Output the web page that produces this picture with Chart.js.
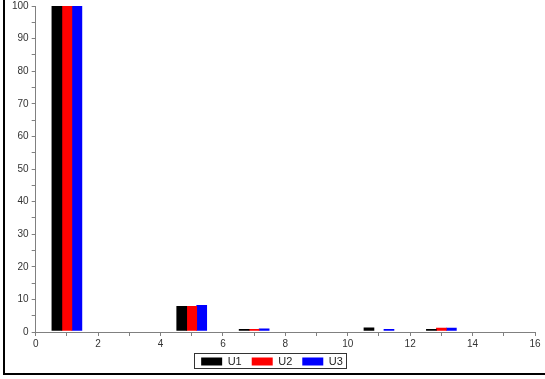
<!DOCTYPE html>
<html>
<head>
<meta charset="utf-8">
<script src="https://cdn.jsdelivr.net/npm/chart.js@4/dist/chart.umd.min.js"></script>
<style>
  html, body { margin: 0; padding: 0; background: #ffffff; }
  #wrap { position: relative; width: 545px; height: 379px; }
</style>
</head>
<body>
<div id="wrap"><canvas id="c" width="545" height="379"></canvas></div>
<script>
// ---- data ----
const positions = [1, 5, 7, 11, 13];
const seriesNames = ['U1', 'U2', 'U3'];
const u1 = [100, 7.9, 0.8, 1.3, 0.8];
const u2 = [100, 7.9, 0.8, null, 1.2];
const u3 = [100, 8.2, 1.0, 0.8, 1.2];
const seriesColors = ['#000000', '#ff0000', '#0000ff'];
const barBase = 0.5;
const xMin = 0, xMax = 16, yMin = 0, yMax = 100;

function pts(vals) { return positions.map((x, i) => ({ x: x, y: vals[i] })); }

const legendShift = {
  id: 'legendShift',
  afterLayout(chart) {
    const lg = chart.legend;
    const dy = -6;
    lg.top += dy; lg.bottom += dy;
  }
};

const frame = {
  id: 'frame',
  afterDraw(chart) {
    const ctx = chart.ctx;
    ctx.save();
    ctx.strokeStyle = '#000';
    ctx.lineWidth = 2;
    ctx.beginPath();
    ctx.moveTo(4, 0);
    ctx.lineTo(4, 374);
    ctx.lineTo(545, 374);
    ctx.stroke();
    // legend outline
    const lg = chart.legend;
    const hb = lg.legendHitBoxes;
    if (hb && hb.length) {
      let l = Infinity, r = -Infinity;
      hb.forEach(h => { l = Math.min(l, h.left); r = Math.max(r, h.left + h.width); });
      const top = Math.round(lg.top + 7) + 0.5;
      const bot = Math.round(lg.top + 22) + 0.5;
      ctx.lineWidth = 1;
      ctx.strokeStyle = '#333';
      ctx.strokeRect(Math.round(l) - 6.5, top, Math.round(r - l) + 10, bot - top);
    }
    ctx.restore();
  }
};

Chart.defaults.font.family = "'Liberation Sans', Arial, sans-serif";
Chart.defaults.font.size = 10;
Chart.defaults.color = '#333';

new Chart(document.getElementById('c'), {
  type: 'bar',
  data: {
    datasets: [
      { label: seriesNames[0], data: pts(u1), backgroundColor: seriesColors[0], base: barBase },
      { label: seriesNames[1], data: pts(u2), backgroundColor: seriesColors[1], base: barBase },
      { label: seriesNames[2], data: pts(u3), backgroundColor: seriesColors[2], base: barBase }
    ]
  },
  options: {
    responsive: false,
    animation: false,
    devicePixelRatio: 1,
    barThickness: 10,
    layout: { padding: { left: 9, right: 10, top: 0, bottom: 1 } },
    plugins: {
      tooltip: { enabled: false },
      legend: {
        position: 'bottom',
        maxHeight: 26,
        labels: {
          boxWidth: 21, boxHeight: 8, padding: 10,
          color: '#222',
          font: { size: 11 }
        }
      }
    },
    scales: {
      x: {
        type: 'linear', min: xMin, max: xMax, offset: false,
        border: { display: true, color: '#808080', width: 1 },
        grid: { display: true, drawOnChartArea: false, drawTicks: true, tickLength: 4, color: '#808080', offset: false },
        ticks: {
          stepSize: 1, autoSkip: false, maxRotation: 0, padding: 2,
          callback: v => (v % 2 === 0 ? String(v) : '')
        }
      },
      y: {
        type: 'linear', min: yMin, max: yMax,
        afterFit: s => { s.paddingTop = 6; },
        border: { display: true, color: '#808080', width: 1 },
        grid: { display: true, drawOnChartArea: false, drawTicks: true, tickLength: 4, color: '#808080' },
        ticks: {
          stepSize: 5, autoSkip: false, padding: 3,
          font: { size: 10, lineHeight: 1.0 },
          callback: v => (v % 10 === 0 ? String(v) : '')
        }
      }
    }
  },
  plugins: [legendShift, frame]
});
</script>
</body>
</html>
